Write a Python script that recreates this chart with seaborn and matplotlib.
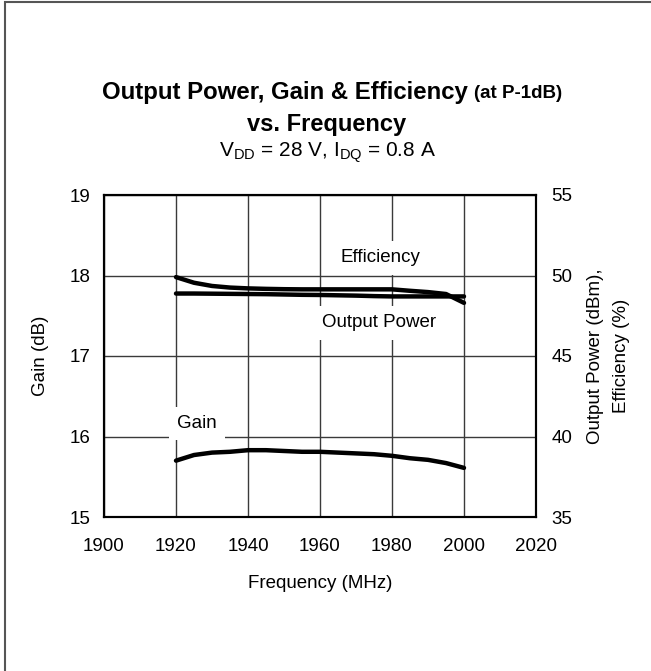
import matplotlib
matplotlib.use("Agg")
import matplotlib.pyplot as plt
from matplotlib.patches import Rectangle
import seaborn as sns

# Data
freq = [1920, 1925, 1930, 1935, 1940, 1945, 1950, 1955, 1960,
        1965, 1970, 1975, 1980, 1985, 1990, 1995, 2000]
gain = [15.70, 15.77, 15.80, 15.81, 15.83, 15.83, 15.82, 15.81, 15.81,
        15.80, 15.79, 15.78, 15.76, 15.73, 15.71, 15.67, 15.61]
pout = [48.88, 48.88, 48.87, 48.86, 48.85, 48.84, 48.82, 48.80, 48.79,
        48.77, 48.75, 48.72, 48.70, 48.70, 48.70, 48.70, 48.70]
eff = [49.90, 49.55, 49.35, 49.25, 49.20, 49.17, 49.15, 49.14, 49.14,
       49.14, 49.14, 49.14, 49.14, 49.05, 48.97, 48.85, 48.30]

x_ticks = [1900, 1920, 1940, 1960, 1980, 2000, 2020]
gain_ticks = [15, 16, 17, 18, 19]
right_ticks = [35, 40, 45, 50, 55]

sns.set_theme(style="white")
plt.rcParams["font.family"] = ["Liberation Sans", "DejaVu Sans"]
plt.rcParams["text.color"] = "black"
plt.rcParams["mathtext.fontset"] = "custom"
plt.rcParams["mathtext.rm"] = "Liberation Sans"

fig = plt.figure(figsize=(6.51, 6.71), dpi=100)
ax = fig.add_axes([104 / 651, 154 / 671, 432 / 651, 322 / 671])
ax2 = ax.twinx()

sns.lineplot(x=freq, y=gain, ax=ax, color="black", lw=3.2)
sns.lineplot(x=freq, y=pout, ax=ax2, color="black", lw=3.2)
sns.lineplot(x=freq, y=eff, ax=ax2, color="black", lw=3.2)

ax.set_xlim(1900, 2020)
ax.set_ylim(15, 19)
ax2.set_ylim(35, 55)
ax.set_xticks(x_ticks)
ax.set_yticks(gain_ticks)
ax2.set_yticks(right_ticks)

ax.grid(True, color="#3a3a3a", lw=1)
ax.set_axisbelow(True)
for a in (ax, ax2):
    for s in a.spines.values():
        s.set_color("black")
        s.set_linewidth(1.5)
fs = 13.5
ax.tick_params(axis="y", length=0, pad=10, labelsize=fs, colors="black")
ax.tick_params(axis="x", length=0, pad=15, labelsize=fs, colors="black")
ax2.tick_params(axis="y", length=0, pad=11, labelsize=fs, colors="black")

ax.set_xlabel("Frequency (MHz)", fontsize=fs, color="black")
ax.set_ylabel("Gain (dB)", fontsize=fs, color="black")
ax2.set_ylabel("Output Power (dBm),\nEfficiency (%)", fontsize=fs,
               color="black", rotation=90, va="center", ha="center",
               linespacing=1.7)
ax.xaxis.set_label_coords(0.5, -0.18)
ax.yaxis.set_label_coords(-0.128, 0.5)
ax2.yaxis.set_label_coords(1.167, 0.5)

box = dict(facecolor="white", edgecolor="none", pad=6)
ax.text(1976.7, 18.22, "Efficiency", fontsize=fs, ha="center", va="center",
        bbox=box, zorder=5)
ax.text(1976.4, 17.41, "Output Power", fontsize=fs, ha="center", va="center",
        bbox=box, zorder=5)
ax.text(1925.8, 16.16, "Gain", fontsize=fs, ha="center", va="center",
        bbox=box, zorder=5)

# Title: bold main text with a smaller "(at P-1dB)"
cx = 332 / 651
t1 = fig.text(0, 1 - 93 / 671, "Output Power, Gain & Efficiency ",
              fontsize=17.3, fontweight="bold", ha="left", va="center")
t2 = fig.text(0, 1 - 93 / 671, "(at P-1dB)", fontsize=13.5,
              fontweight="bold", ha="left", va="center")
r = fig.canvas.get_renderer()
w1 = t1.get_window_extent(r).width / fig.bbox.width
w2 = t2.get_window_extent(r).width / fig.bbox.width
x0 = cx - (w1 + w2) / 2
t1.set_x(x0)
t2.set_x(x0 + w1)
fig.text(327 / 651, 1 - 124 / 671, "vs. Frequency", fontsize=17,
         fontweight="bold", ha="center", va="center")
fig.text(328 / 651, 1 - 153 / 671,
         r"$\mathregular{V_{DD}}$ = 28 V, $\mathregular{I_{DQ}}$ = 0.8 A",
         fontsize=15, ha="center", va="center")

# outer frame
fig.patches.append(Rectangle((5 / 651, -0.05), 1.2, 1.05 - 2 / 671,
                             fill=False, edgecolor="#555555", lw=1.5,
                             transform=fig.transFigure))

fig.savefig("out.png", dpi=100)
